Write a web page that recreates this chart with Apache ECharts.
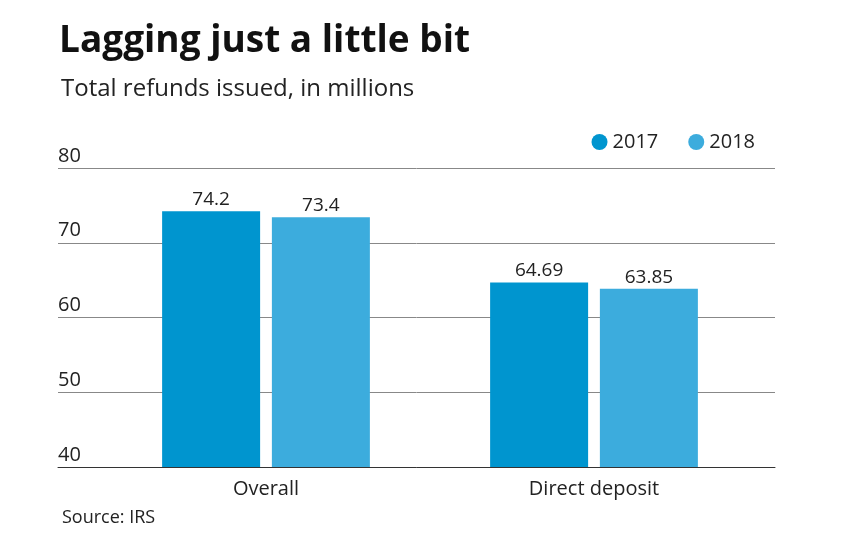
<!DOCTYPE html>
<html>
<head>
<meta charset="utf-8">
<script src="https://cdn.jsdelivr.net/npm/echarts@6/dist/echarts.min.js"></script>
<style>html,body{margin:0;background:#fff}#c{width:844px;height:550px}</style>
</head>
<body>
<div id="c"></div>
<script>
var categories = ['Overall', 'Direct deposit'];
var values2017 = [74.2, 64.69];
var values2018 = [73.4, 63.85];
var seriesNames = ['2017', '2018'];

var font = '"Open Sans", sans-serif';
var chart = echarts.init(document.getElementById('c'));
var lbl = {show: true, position: 'top', color: '#222', fontSize: 19, fontFamily: font, distance: 2};
chart.setOption({
    animation: false,
    textStyle: {fontFamily: font},
    title: [
        {text: 'Lagging just a little bit', left: 54, top: 18, textStyle: {fontSize: 37, fontWeight: 'bold', color: '#111', fontFamily: font}},
        {text: 'Total refunds issued, in millions', left: 56, top: 72, textStyle: {fontSize: 24, fontWeight: 'normal', color: '#222', fontFamily: font}},
        {text: 'Source: IRS', left: 57, top: 504, textStyle: {fontSize: 18, fontWeight: 'normal', color: '#222', fontFamily: font}}
    ],
    legend: {right: 84, top: 127, itemWidth: 16, itemHeight: 16, icon: 'circle', itemGap: 30,
        textStyle: {fontSize: 20, color: '#222', fontFamily: font}},
    color: ['#0095cf', '#3cacdd'],
    grid: [
        {left: 102, right: 86, top: 168, bottom: 83},
        {left: 58, right: 69, top: 168, bottom: 83}
    ],
    xAxis: [
        {gridIndex: 0, type: 'category', data: categories, axisTick: {show: false},
            axisLine: {show: false},
            axisLabel: {fontSize: 20, color: '#222', margin: 12, fontFamily: font}},
        {gridIndex: 1, type: 'category', data: categories, show: true,
            axisLine: {lineStyle: {color: '#333', width: 1}}, axisTick: {show: false}, axisLabel: {show: false}}
    ],
    yAxis: [
        {gridIndex: 0, type: 'value', min: 40, max: 80, interval: 10, show: false},
        {gridIndex: 1, type: 'value', min: 40, max: 80, interval: 10,
            axisLine: {show: false}, axisTick: {show: false},
            splitLine: {lineStyle: {color: '#888', width: 1}},
            axisLabel: {inside: true, verticalAlign: 'bottom', margin: 0, padding: [0, 0, 2, 0],
                fontSize: 20, color: '#222', fontFamily: font}}
    ],
    series: [
        {name: seriesNames[0], type: 'bar', data: values2017, barWidth: 98, barGap: '12%', label: lbl},
        {name: seriesNames[1], type: 'bar', data: values2018, barWidth: 98, label: lbl}
    ]
});
</script>
</body>
</html>
